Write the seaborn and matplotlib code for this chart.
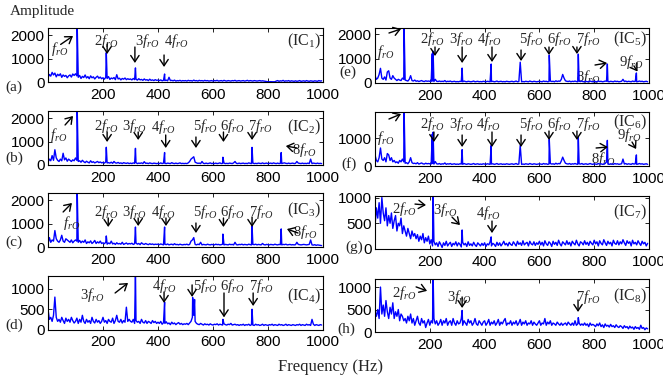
import numpy as np
import pandas as pd
import matplotlib
matplotlib.use("Agg")
import matplotlib.pyplot as plt
import seaborn as sns

# ---------------------------------------------------------------------------
# Envelope spectra of the eight independent components (amplitude vs. Hz)
# ---------------------------------------------------------------------------
freq = np.arange(0, 1000, 5)          # background grid, 5 Hz steps

bg_ic1 = [180, 320, 250, 410, 300, 380, 220, 330, 270, 350, 200, 300, 240, 280, 180, 260, 300, 210, 340, 280,
          350, 260, 200, 280, 150, 240, 190, 300, 170, 230, 140, 260, 180, 220, 130, 200, 250, 160, 210, 140,
          180, 120, 200, 150, 230, 110, 170, 140, 190, 100, 310, 130, 160, 90, 150, 120, 170, 100, 140, 110,
          130, 90, 150, 100, 120, 80, 140, 90, 110, 70, 130, 80, 100, 60, 120, 70, 90, 60, 100, 70,
          80, 60, 90, 50, 70, 60, 80, 50, 200, 60, 70, 50, 80, 40, 60, 50, 70, 40, 60, 50,
          60, 40, 70, 50, 60, 40, 80, 50, 60, 40, 70, 50, 60, 40, 70, 50, 60, 40, 50, 60,
          40, 60, 50, 70, 40, 50, 60, 40, 70, 50, 40, 60, 50, 40, 60, 50, 70, 40, 50, 60,
          40, 50, 60, 40, 50, 70, 40, 60, 50, 40, 60, 50, 40, 50, 60, 40, 50, 40, 30, 20,
          10, 10, 15, 10, 12, 10, 40, 60, 30, 50, 40, 70, 30, 50, 40, 60, 30, 50, 40, 30,
          50, 30, 40, 60, 30, 40, 50, 30, 60, 40, 30, 50, 40, 30, 50, 40, 30, 60, 40, 50]
bg_ic2 = [120, 250, 180, 400, 200, 650, 300, 200, 150, 250, 180, 500, 220, 300, 160, 250, 200, 150, 220, 180,
          300, 200, 150, 180, 120, 200, 140, 100, 160, 120, 90, 180, 110, 140, 90, 120, 150, 100, 130, 90,
          110, 80, 130, 90, 100, 80, 120, 70, 150, 90, 80, 110, 70, 90, 60, 100, 80, 70, 90, 60,
          80, 60, 90, 70, 100, 60, 80, 70, 90, 60, 140, 70, 80, 60, 90, 70, 60, 80, 70, 60,
          70, 60, 90, 60, 80, 70, 60, 80, 70, 60, 100, 70, 60, 80, 60, 70, 90, 60, 70, 60,
          70, 60, 90, 150, 250, 300, 200, 120, 90, 70, 80, 60, 150, 70, 60, 80, 60, 70, 90, 60,
          70, 60, 80, 60, 70, 90, 60, 70, 80, 60, 70, 60, 80, 70, 60, 90, 150, 70, 60, 80,
          60, 70, 80, 60, 70, 60, 90, 70, 60, 80, 60, 70, 60, 80, 70, 60, 90, 60, 70, 80,
          60, 70, 80, 60, 90, 70, 60, 80, 60, 70, 60, 80, 90, 70, 60, 80, 60, 70, 80, 60,
          70, 150, 80, 70, 60, 80, 60, 70, 60, 80, 60, 250, 60, 80, 70, 60, 80, 60, 70, 60]
bg_ic3 = [150, 400, 200, 300, 250, 700, 350, 250, 200, 300, 500, 250, 200, 350, 300, 250, 200, 300, 180, 250,
          300, 250, 200, 280, 180, 250, 200, 300, 150, 220, 180, 260, 150, 200, 280, 150, 220, 170, 250, 150,
          180, 140, 200, 120, 170, 140, 250, 130, 160, 110, 180, 130, 150, 120, 200, 110, 140, 170, 120, 150,
          130, 160, 110, 140, 170, 120, 150, 100, 180, 130, 110, 150, 120, 100, 140, 110, 130, 100, 120, 110,
          120, 100, 130, 110, 90, 120, 100, 130, 90, 110, 120, 90, 140, 100, 110, 90, 120, 100, 90, 110,
          100, 120, 90, 110, 250, 300, 180, 110, 90, 120, 100, 200, 90, 110, 100, 90, 120, 100, 90, 110,
          100, 90, 120, 100, 110, 90, 100, 120, 90, 110, 100, 90, 120, 100, 110, 90, 200, 100, 90, 110,
          100, 120, 90, 110, 100, 90, 120, 100, 90, 110, 100, 120, 90, 110, 100, 90, 150, 100, 90, 110,
          100, 90, 110, 100, 90, 120, 100, 90, 110, 100, 90, 110, 100, 120, 90, 100, 110, 90, 100, 90,
          100, 200, 110, 100, 90, 100, 110, 100, 90, 100, 110, 300, 90, 80, 100, 70, 90, 80, 70, 60]
bg_ic4 = [500, 250, 300, 200, 350, 800, 300, 200, 250, 180, 300, 220, 150, 280, 200, 250, 180, 300, 220, 160,
          200, 280, 150, 250, 180, 350, 200, 150, 250, 180, 220, 150, 300, 200, 160, 250, 180, 220, 150, 200,
          300, 180, 220, 150, 250, 200, 180, 280, 150, 220, 350, 200, 180, 250, 160, 220, 180, 550, 200, 250,
          200, 180, 250, 150, 220, 180, 200, 150, 250, 180, 160, 220, 150, 200, 180, 150, 220, 170, 200, 150,
          180, 150, 200, 130, 170, 150, 190, 140, 160, 120, 180, 140, 160, 120, 150, 170, 130, 150, 120, 140,
          130, 150, 120, 160, 200, 300, 350, 200, 150, 130, 120, 150, 130, 110, 140, 120, 130, 110, 140, 120,
          110, 130, 120, 140, 110, 130, 120, 110, 140, 120, 110, 130, 120, 150, 110, 120, 130, 110, 120, 100,
          120, 110, 130, 100, 120, 110, 130, 100, 120, 110, 100, 130, 110, 120, 100, 110, 130, 100, 120, 110,
          100, 120, 110, 130, 100, 120, 110, 100, 130, 110, 120, 100, 110, 130, 100, 120, 110, 100, 120, 110,
          100, 120, 110, 130, 100, 120, 110, 100, 130, 110, 120, 100, 250, 130, 100, 120, 110, 100, 120, 110]
bg_ic5 = [300, 150, 200, 350, 600, 200, 150, 250, 120, 450, 500, 200, 150, 300, 200, 150, 100, 150, 120, 100,
          200, 150, 120, 100, 80, 150, 300, 100, 80, 120, 70, 90, 60, 80, 100, 70, 60, 90, 70, 80,
          70, 60, 80, 60, 150, 70, 60, 80, 60, 70, 60, 100, 50, 70, 60, 80, 50, 60, 70, 50,
          60, 50, 70, 60, 50, 80, 60, 50, 70, 60, 50, 60, 80, 50, 60, 70, 50, 60, 50, 70,
          60, 50, 70, 60, 50, 60, 70, 50, 60, 80, 50, 60, 70, 50, 60, 50, 70, 60, 50, 60,
          70, 50, 60, 80, 50, 60, 70, 50, 60, 50, 70, 60, 50, 80, 60, 50, 70, 60, 50, 60,
          70, 60, 50, 80, 60, 70, 50, 60, 80, 60, 70, 50, 90, 60, 80, 70, 150, 350, 200, 90,
          70, 60, 80, 50, 70, 60, 80, 60, 50, 70, 60, 80, 50, 60, 70, 50, 60, 80, 60, 50,
          70, 60, 50, 80, 60, 70, 50, 60, 80, 70, 60, 50, 70, 60, 50, 80, 60, 70, 50, 60,
          70, 150, 60, 80, 50, 70, 60, 50, 80, 60, 70, 50, 60, 80, 60, 70, 50, 60, 70, 50]
bg_ic6 = [400, 200, 150, 300, 650, 250, 200, 300, 150, 450, 400, 200, 300, 150, 200, 120, 150, 100, 200, 150,
          250, 150, 100, 120, 80, 150, 300, 120, 90, 100, 80, 120, 70, 90, 110, 80, 70, 100, 80, 90,
          80, 70, 90, 70, 160, 80, 70, 90, 60, 80, 70, 110, 60, 80, 70, 90, 60, 70, 80, 60,
          70, 60, 80, 70, 60, 90, 70, 60, 80, 70, 60, 70, 90, 60, 70, 80, 60, 70, 60, 80,
          70, 60, 80, 70, 60, 70, 80, 60, 70, 90, 60, 70, 80, 60, 70, 60, 80, 70, 60, 70,
          80, 60, 70, 90, 60, 70, 80, 60, 70, 60, 80, 70, 60, 90, 70, 60, 80, 70, 60, 70,
          80, 70, 60, 90, 70, 80, 60, 70, 90, 70, 80, 60, 100, 70, 90, 80, 180, 320, 200, 100,
          80, 70, 90, 60, 80, 70, 90, 70, 60, 80, 70, 90, 60, 70, 80, 60, 70, 90, 70, 60,
          80, 70, 60, 90, 70, 80, 60, 70, 90, 150, 70, 60, 80, 70, 60, 90, 70, 80, 60, 70,
          80, 250, 70, 90, 60, 80, 70, 60, 90, 70, 80, 60, 70, 90, 70, 80, 60, 70, 80, 60]
bg_ic7 = [450, 800, 600, 900, 500, 1000, 700, 550, 800, 450, 650, 500, 700, 400, 550, 650, 350, 500, 450, 600,
          300, 450, 350, 250, 400, 300, 200, 350, 250, 300, 200, 280, 150, 250, 180, 300, 120, 220, 150, 250,
          100, 180, 60, 150, 80, 120, 50, 140, 90, 30, 120, 70, 150, 60, 100, 130, 50, 110, 80, 140,
          60, 120, 90, 40, 130, 80, 110, 50, 140, 70, 100, 60, 130, 80, 50, 120, 90, 60, 110, 70,
          120, 50, 100, 80, 140, 60, 110, 90, 50, 130, 70, 120, 60, 100, 150, 80, 110, 60, 130, 90,
          70, 140, 100, 60, 150, 90, 120, 70, 160, 80, 110, 130, 60, 150, 100, 80, 140, 70, 120, 90,
          150, 80, 130, 60, 160, 100, 70, 140, 110, 50, 150, 90, 130, 70, 170, 100, 60, 140, 110, 80,
          160, 90, 130, 60, 150, 110, 80, 170, 100, 60, 140, 120, 80, 160, 90, 130, 70, 150, 110, 80,
          170, 100, 140, 60, 160, 110, 80, 180, 120, 70, 150, 100, 130, 60, 170, 110, 90, 160, 80, 140,
          100, 180, 120, 70, 160, 110, 140, 60, 170, 100, 130, 80, 160, 110, 70, 150, 100, 130, 60, 110]
bg_ic8 = [450, 350, 500, 300, 1000, 400, 600, 350, 700, 450, 300, 550, 400, 650, 300, 450, 350, 500, 250, 400,
          350, 250, 300, 200, 350, 250, 400, 200, 300, 150, 250, 350, 200, 150, 300, 200, 250, 100, 200, 280,
          150, 250, 200, 300, 180, 250, 150, 200, 280, 150, 250, 200, 300, 150, 220, 250, 150, 300, 200, 150,
          250, 180, 200, 300, 150, 250, 200, 150, 280, 200, 250, 150, 200, 300, 180, 150, 250, 200, 150, 220,
          250, 150, 200, 280, 150, 220, 180, 250, 150, 200, 280, 150, 220, 180, 250, 300, 150, 200, 180, 250,
          150, 220, 180, 250, 150, 200, 280, 150, 220, 180, 250, 150, 200, 180, 250, 150, 220, 180, 150, 200,
          250, 150, 200, 180, 300, 150, 220, 180, 250, 150, 200, 180, 150, 220, 180, 150, 200, 150, 180, 200,
          150, 220, 180, 150, 200, 150, 250, 150, 180, 200, 150, 180, 150, 200, 150, 180, 120, 200, 150, 170,
          150, 120, 180, 140, 200, 120, 160, 100, 180, 130, 150, 110, 170, 120, 140, 100, 160, 120, 100, 140,
          120, 80, 140, 100, 120, 70, 130, 90, 110, 60, 120, 80, 100, 60, 150, 80, 100, 50, 90, 70]

# shaft-rotation harmonics k*f_rO (Hz) and their peak amplitudes
peak_f_ic1 = [106, 212, 318, 424]
peak_a_ic1 = [2500, 1250, 600, 340]
peak_f_ic2 = [106, 212, 318, 424, 530, 636, 742, 848]
peak_a_ic2 = [2500, 755, 710, 530, 350, 330, 750, 530]
peak_f_ic3 = [106, 212, 318, 424, 530, 636, 742, 848]
peak_a_ic3 = [2500, 470, 850, 850, 400, 550, 900, 770]
peak_f_ic4 = [318, 424, 526, 533, 636, 742]
peak_a_ic4 = [1450, 675, 790, 740, 250, 500]
peak_f_ic5 = [106, 209, 212, 318, 424, 530, 636, 742, 848, 954]
peak_a_ic5 = [2400, 1200, 1300, 610, 775, 850, 1140, 1180, 775, 410]
peak_f_ic6 = [106, 209, 212, 318, 424, 530, 636, 742, 848, 954]
peak_a_ic6 = [2100, 1150, 1220, 590, 740, 740, 960, 1040, 925, 400]
peak_f_ic7 = [212, 318, 424]
peak_a_ic7 = [1150, 370, 235]
peak_f_ic8 = [212, 318, 742]
peak_a_ic8 = [1300, 480, 320]

panel_letters = ["(a)", "(b)", "(c)", "(d)", "(e)", "(f)", "(g)", "(h)"]
ic_names = [r"(IC$_%d$)" % k for k in range(1, 9)]
x_ticks = [200, 400, 600, 800, 1000]

backgrounds = [bg_ic1, bg_ic2, bg_ic3, bg_ic4, bg_ic5, bg_ic6, bg_ic7, bg_ic8]
peak_freqs = [peak_f_ic1, peak_f_ic2, peak_f_ic3, peak_f_ic4,
              peak_f_ic5, peak_f_ic6, peak_f_ic7, peak_f_ic8]
peak_amps = [peak_a_ic1, peak_a_ic2, peak_a_ic3, peak_a_ic4,
             peak_a_ic5, peak_a_ic6, peak_a_ic7, peak_a_ic8]

# ---------------------------------------------------------------------------
# Layout (figure pixels) and axis settings
# ---------------------------------------------------------------------------
W, H = 663, 382
# (left, top, width, height) in pixels
boxes = [(48, 28, 275, 54), (48, 111, 275, 54), (48, 193, 275, 54), (48, 276, 275, 53.5),
         (375, 28, 274, 55), (375, 112, 274, 54), (375, 196, 274, 53), (375, 279, 274, 53)]
y_tops = [2300, 2300, 2300, 1320, 2250, 1950, 1030, 1180]
y_tick_sets = [[0, 1000, 2000], [0, 1000, 2000], [0, 1000, 2000], [0, 500, 1000],
               [0, 1000, 2000], [0, 1000], [0, 500, 1000], [0, 500, 1000]]
letter_pos = [(14, 87), (14, 158), (14, 242), (14, 325),
              (348, 72), (349, 164), (354, 247), (346, 329)]
ic_ypos = [0.76, 0.70, 0.67, 0.61, 0.80, 0.81, 0.70, 0.68]

# arrow annotations: (harmonic order, label xy, arrow tail xy, arrow head xy)
arrows = [
    [(1, (44, 1405), (46, 1600), (91, 1960)),
     (2, (211, 1746), (215, 1620), (215, 1190)),
     (3, (360, 1746), (316, 1490), (316, 810)),
     (4, (465, 1746), (422, 1150), (422, 640))],
    [(1, (40, 1278), (62, 1704), (91, 2087)),
     (2, (211, 1661), (215, 1405), (215, 980)),
     (3, (313, 1661), (328, 1405), (328, 1065)),
     (4, (418, 1618), (428, 1278), (428, 724)),
     (5, (571, 1661), (538, 1192), (538, 724)),
     (6, (669, 1661), (638, 1405), (638, 980)),
     (7, (771, 1661), (742, 1405), (742, 1065)),
     (8, (931, 639), (905, 724), (865, 809))],
    [(1, (85, 1022), (55, 1491), (87, 1874)),
     (2, (211, 1491), (219, 1235), (219, 852)),
     (3, (313, 1491), (328, 1235), (328, 894)),
     (4, (418, 1491), (429, 1235), (429, 894)),
     (5, (571, 1491), (538, 1022), (538, 596)),
     (6, (669, 1491), (638, 1235), (638, 852)),
     (7, (775, 1491), (742, 1278), (742, 852)),
     (8, (935, 639), (909, 596), (869, 767))],
    [(3, (160, 852), (244, 901), (291, 1149)),
     (4, (422, 1074), (422, 926), (422, 655)),
     (5, (571, 1074), (524, 1100), (524, 803)),
     (6, (669, 1074), (640, 901), (640, 300)),
     (7, (775, 1074), (746, 901), (746, 580))],
    [(1, (40, 1268), (51, 2045), (95, 2210)),
     (2, (208, 1800), (219, 1472), (219, 1104)),
     (3, (314, 1800), (318, 1472), (318, 818)),
     (4, (416, 1800), (427, 1472), (427, 859)),
     (5, (569, 1800), (533, 1350), (533, 900)),
     (6, (672, 1800), (635, 1472), (635, 1145)),
     (7, (777, 1800), (737, 1472), (737, 1186)),
     (8, (777, 250), (803, 736), (847, 818)),
     (9, (934, 860), (945, 700), (958, 470))],
    [(1, (40, 1011), (51, 1697), (95, 1877)),
     (2, (208, 1516), (215, 1227), (215, 866)),
     (3, (314, 1516), (318, 1119), (318, 686)),
     (4, (412, 1516), (427, 1227), (427, 686)),
     (5, (569, 1516), (533, 1119), (533, 686)),
     (6, (672, 1516), (635, 1263), (635, 939)),
     (7, (777, 1516), (737, 1263), (737, 939)),
     (8, (832, 253), (807, 650), (850, 686)),
     (9, (927, 1119), (938, 866), (953, 614))],
    [(2, (106, 776), (146, 873), (186, 854)),
     (3, (255, 757), (281, 621), (310, 466)),
     (4, (412, 699), (427, 543), (427, 310))],
    [(2, (106, 870), (150, 1004), (190, 915)),
     (3, (307, 780), (318, 780), (318, 535)),
     (7, (777, 780), (741, 713), (741, 446))],
]
# labels drawn underneath the spectrum line
behind_line = {(4, 8), (5, 8)}

# ---------------------------------------------------------------------------
sns.set_style("ticks")
plt.rcParams.update({
    "font.family": ["Liberation Sans", "DejaVu Sans"],
    "mathtext.fontset": "custom",
    "mathtext.rm": "Liberation Serif",
    "mathtext.it": "Liberation Serif:italic",
    "mathtext.bf": "Liberation Serif:bold",
    "axes.linewidth": 0.8,
    "xtick.direction": "in",
    "ytick.direction": "in",
    "xtick.major.size": 3,
    "ytick.major.size": 3,
    "xtick.major.width": 0.6,
    "ytick.major.width": 0.6,
})
SERIF = ["Liberation Serif", "DejaVu Serif"]

fig = plt.figure(figsize=(W / 100, H / 100), dpi=100)

def harmonic_label(k):
    if k == 1:
        return r"$\mathit{f}_{\mathit{rO}}$"
    return r"$\mathit{%df}_{\mathit{rO}}$" % k

for i in range(8):
    l, t, w, h = boxes[i]
    ax = fig.add_axes([l / W, 1 - (t + h) / H, w / W, h / H])

    base = pd.DataFrame({"f": freq, "a": backgrounds[i]})
    pk = pd.DataFrame({"f": peak_freqs[i], "a": peak_amps[i]})
    base = base[~base["f"].isin(pk["f"])]
    spec = pd.concat([base, pk]).sort_values("f").reset_index(drop=True)

    sns.lineplot(data=spec, x="f", y="a", ax=ax, estimator=None, sort=False,
                 color="#0000ff", linewidth=1.0, zorder=2)

    ax.set_xlim(0, 1000)
    ax.set_ylim(0, y_tops[i])
    ax.set_xticks(x_ticks)
    ax.set_yticks(y_tick_sets[i])
    ax.set_xlabel("")
    ax.set_ylabel("")
    ax.tick_params(axis="both", which="major", labelsize=11, top=True, right=True,
                   colors="black")
    ax.tick_params(axis="x", pad=4)
    ax.tick_params(axis="y", pad=2.5)
    for sp in ax.spines.values():
        sp.set_visible(True)
        sp.set_color("black")

    ax.text(0.992, ic_ypos[i], ic_names[i], transform=ax.transAxes, ha="right",
            va="center", fontsize=11.5, family=SERIF)

    for k, txy, tail, head in arrows[i]:
        z = 1 if (i, k) in behind_line else 4
        ax.text(txy[0], txy[1], harmonic_label(k), ha="center", va="center",
                fontsize=10.5, zorder=z)
        ax.annotate("", xy=head, xytext=tail,
                    arrowprops=dict(arrowstyle="->,head_length=0.45,head_width=0.3",
                                    color="black", lw=1.0, shrinkA=0, shrinkB=0),
                    zorder=5, annotation_clip=False)

    lx, ly = letter_pos[i]
    fig.text(lx / W, 1 - ly / H, panel_letters[i], ha="center", va="center",
             fontsize=11, family=SERIF)

fig.text(42 / W, 1 - 12 / H, "Amplitude", ha="center", va="center",
         fontsize=11, family=SERIF)
fig.text(331 / W, 1 - 367 / H, "Frequency (Hz)", ha="center", va="center",
         fontsize=12, family=SERIF)

fig.savefig("out.png", dpi=100)
